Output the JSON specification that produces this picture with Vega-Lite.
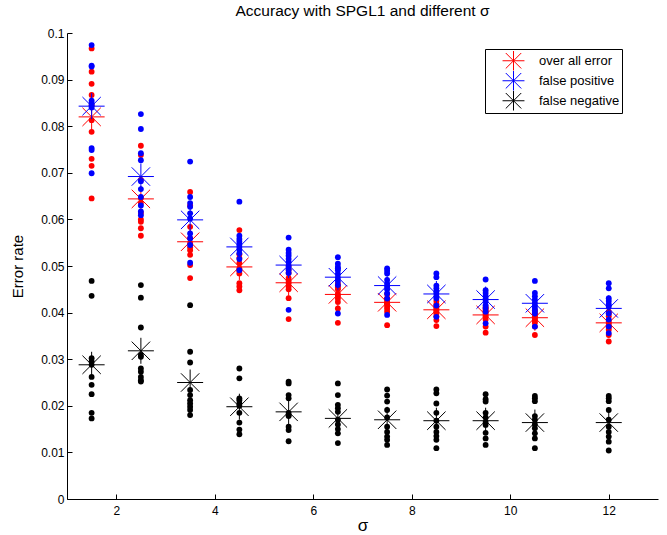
{
  "$schema": "https://vega.github.io/schema/vega-lite/v6.json",
  "width": 591,
  "height": 466,
  "autosize": {"type": "none"},
  "padding": {"left": 67, "top": 33, "right": 9, "bottom": 36},
  "background": "white",
  "title": {"text": "Accuracy with SPGL1 and different σ", "font": "Liberation Sans", "fontSize": 15.5, "fontWeight": "normal", "color": "black", "anchor": "middle", "offset": 8},
  "config": {
    "view": {"stroke": null},
    "axis": {"domainColor": "black", "tickColor": "black", "labelColor": "black", "labelFont": "Liberation Sans", "labelFontSize": 12, "titleFont": "Liberation Sans", "titleColor": "black", "titleFontWeight": "normal", "grid": false, "tickSize": -5, "domainWidth": 1, "tickWidth": 1}
  },
  "datasets": {
    "overall": [
      {"sigma":1.5,"rate":0.0967},{"sigma":1.5,"rate":0.0917},{"sigma":1.5,"rate":0.0891},{"sigma":1.5,"rate":0.0867},{"sigma":1.5,"rate":0.0845},{"sigma":1.5,"rate":0.0813},{"sigma":1.5,"rate":0.0788},{"sigma":1.5,"rate":0.0730},{"sigma":1.5,"rate":0.0715},{"sigma":1.5,"rate":0.0645},
      {"sigma":2.5,"rate":0.0758},{"sigma":2.5,"rate":0.0738},{"sigma":2.5,"rate":0.0685},{"sigma":2.5,"rate":0.0646},{"sigma":2.5,"rate":0.0635},{"sigma":2.5,"rate":0.0614},{"sigma":2.5,"rate":0.0600},{"sigma":2.5,"rate":0.0595},{"sigma":2.5,"rate":0.0581},{"sigma":2.5,"rate":0.0565},
      {"sigma":3.5,"rate":0.0659},{"sigma":3.5,"rate":0.0630},{"sigma":3.5,"rate":0.0584},{"sigma":3.5,"rate":0.0560},{"sigma":3.5,"rate":0.0549},{"sigma":3.5,"rate":0.0540},{"sigma":3.5,"rate":0.0534},{"sigma":3.5,"rate":0.0524},{"sigma":3.5,"rate":0.0502},{"sigma":3.5,"rate":0.0474},
      {"sigma":4.5,"rate":0.0577},{"sigma":4.5,"rate":0.0525},{"sigma":4.5,"rate":0.0517},{"sigma":4.5,"rate":0.0506},{"sigma":4.5,"rate":0.0495},{"sigma":4.5,"rate":0.0490},{"sigma":4.5,"rate":0.0484},{"sigma":4.5,"rate":0.0463},{"sigma":4.5,"rate":0.0456},{"sigma":4.5,"rate":0.0448},
      {"sigma":5.5,"rate":0.0500},{"sigma":5.5,"rate":0.0492},{"sigma":5.5,"rate":0.0485},{"sigma":5.5,"rate":0.0474},{"sigma":5.5,"rate":0.0468},{"sigma":5.5,"rate":0.0463},{"sigma":5.5,"rate":0.0456},{"sigma":5.5,"rate":0.0450},{"sigma":5.5,"rate":0.0431},{"sigma":5.5,"rate":0.0386},
      {"sigma":6.5,"rate":0.0462},{"sigma":6.5,"rate":0.0458},{"sigma":6.5,"rate":0.0454},{"sigma":6.5,"rate":0.0450},{"sigma":6.5,"rate":0.0440},{"sigma":6.5,"rate":0.0436},{"sigma":6.5,"rate":0.0430},{"sigma":6.5,"rate":0.0423},{"sigma":6.5,"rate":0.0409},{"sigma":6.5,"rate":0.0378},
      {"sigma":7.5,"rate":0.0440},{"sigma":7.5,"rate":0.0431},{"sigma":7.5,"rate":0.0428},{"sigma":7.5,"rate":0.0423},{"sigma":7.5,"rate":0.0420},{"sigma":7.5,"rate":0.0418},{"sigma":7.5,"rate":0.0413},{"sigma":7.5,"rate":0.0408},{"sigma":7.5,"rate":0.0402},{"sigma":7.5,"rate":0.0373},
      {"sigma":8.5,"rate":0.0425},{"sigma":8.5,"rate":0.0418},{"sigma":8.5,"rate":0.0413},{"sigma":8.5,"rate":0.0409},{"sigma":8.5,"rate":0.0405},{"sigma":8.5,"rate":0.0402},{"sigma":8.5,"rate":0.0398},{"sigma":8.5,"rate":0.0392},{"sigma":8.5,"rate":0.0384},{"sigma":8.5,"rate":0.0371},
      {"sigma":9.5,"rate":0.0412},{"sigma":9.5,"rate":0.0409},{"sigma":9.5,"rate":0.0405},{"sigma":9.5,"rate":0.0402},{"sigma":9.5,"rate":0.0398},{"sigma":9.5,"rate":0.0394},{"sigma":9.5,"rate":0.0391},{"sigma":9.5,"rate":0.0385},{"sigma":9.5,"rate":0.0370},{"sigma":9.5,"rate":0.0357},
      {"sigma":10.5,"rate":0.0405},{"sigma":10.5,"rate":0.0400},{"sigma":10.5,"rate":0.0396},{"sigma":10.5,"rate":0.0392},{"sigma":10.5,"rate":0.0389},{"sigma":10.5,"rate":0.0386},{"sigma":10.5,"rate":0.0382},{"sigma":10.5,"rate":0.0378},{"sigma":10.5,"rate":0.0370},{"sigma":10.5,"rate":0.0352},
      {"sigma":12,"rate":0.0402},{"sigma":12,"rate":0.0398},{"sigma":12,"rate":0.0392},{"sigma":12,"rate":0.0381},{"sigma":12,"rate":0.0377},{"sigma":12,"rate":0.0372},{"sigma":12,"rate":0.0368},{"sigma":12,"rate":0.0363},{"sigma":12,"rate":0.0352},{"sigma":12,"rate":0.0338}
    ],
    "fp": [
      {"sigma":1.5,"rate":0.0974},{"sigma":1.5,"rate":0.0930},{"sigma":1.5,"rate":0.0928},{"sigma":1.5,"rate":0.0855},{"sigma":1.5,"rate":0.0850},{"sigma":1.5,"rate":0.0845},{"sigma":1.5,"rate":0.0840},{"sigma":1.5,"rate":0.0753},{"sigma":1.5,"rate":0.0749},{"sigma":1.5,"rate":0.0699},
      {"sigma":2.5,"rate":0.0826},{"sigma":2.5,"rate":0.0794},{"sigma":2.5,"rate":0.0742},{"sigma":2.5,"rate":0.0727},{"sigma":2.5,"rate":0.0682},{"sigma":2.5,"rate":0.0665},{"sigma":2.5,"rate":0.0648},{"sigma":2.5,"rate":0.0630},{"sigma":2.5,"rate":0.0617},{"sigma":2.5,"rate":0.0609},
      {"sigma":3.5,"rate":0.0724},{"sigma":3.5,"rate":0.0648},{"sigma":3.5,"rate":0.0635},{"sigma":3.5,"rate":0.0627},{"sigma":3.5,"rate":0.0613},{"sigma":3.5,"rate":0.0602},{"sigma":3.5,"rate":0.0570},{"sigma":3.5,"rate":0.0559},{"sigma":3.5,"rate":0.0545},{"sigma":3.5,"rate":0.0507},
      {"sigma":4.5,"rate":0.0638},{"sigma":4.5,"rate":0.0565},{"sigma":4.5,"rate":0.0558},{"sigma":4.5,"rate":0.0552},{"sigma":4.5,"rate":0.0546},{"sigma":4.5,"rate":0.0541},{"sigma":4.5,"rate":0.0535},{"sigma":4.5,"rate":0.0527},{"sigma":4.5,"rate":0.0515},{"sigma":4.5,"rate":0.0491},
      {"sigma":5.5,"rate":0.0561},{"sigma":5.5,"rate":0.0535},{"sigma":5.5,"rate":0.0528},{"sigma":5.5,"rate":0.0522},{"sigma":5.5,"rate":0.0515},{"sigma":5.5,"rate":0.0508},{"sigma":5.5,"rate":0.0500},{"sigma":5.5,"rate":0.0492},{"sigma":5.5,"rate":0.0485},{"sigma":5.5,"rate":0.0406},
      {"sigma":6.5,"rate":0.0519},{"sigma":6.5,"rate":0.0505},{"sigma":6.5,"rate":0.0495},{"sigma":6.5,"rate":0.0498},{"sigma":6.5,"rate":0.0491},{"sigma":6.5,"rate":0.0483},{"sigma":6.5,"rate":0.0475},{"sigma":6.5,"rate":0.0468},{"sigma":6.5,"rate":0.0459},{"sigma":6.5,"rate":0.0398},
      {"sigma":7.5,"rate":0.0495},{"sigma":7.5,"rate":0.0490},{"sigma":7.5,"rate":0.0484},{"sigma":7.5,"rate":0.0470},{"sigma":7.5,"rate":0.0462},{"sigma":7.5,"rate":0.0456},{"sigma":7.5,"rate":0.0450},{"sigma":7.5,"rate":0.0441},{"sigma":7.5,"rate":0.0430},{"sigma":7.5,"rate":0.0395},
      {"sigma":8.5,"rate":0.0484},{"sigma":8.5,"rate":0.0476},{"sigma":8.5,"rate":0.0458},{"sigma":8.5,"rate":0.0452},{"sigma":8.5,"rate":0.0446},{"sigma":8.5,"rate":0.0441},{"sigma":8.5,"rate":0.0435},{"sigma":8.5,"rate":0.0431},{"sigma":8.5,"rate":0.0415},{"sigma":8.5,"rate":0.0391},
      {"sigma":9.5,"rate":0.0471},{"sigma":9.5,"rate":0.0448},{"sigma":9.5,"rate":0.0442},{"sigma":9.5,"rate":0.0436},{"sigma":9.5,"rate":0.0430},{"sigma":9.5,"rate":0.0425},{"sigma":9.5,"rate":0.0416},{"sigma":9.5,"rate":0.0410},{"sigma":9.5,"rate":0.0402},{"sigma":9.5,"rate":0.0377},
      {"sigma":10.5,"rate":0.0468},{"sigma":10.5,"rate":0.0442},{"sigma":10.5,"rate":0.0435},{"sigma":10.5,"rate":0.0428},{"sigma":10.5,"rate":0.0421},{"sigma":10.5,"rate":0.0415},{"sigma":10.5,"rate":0.0410},{"sigma":10.5,"rate":0.0404},{"sigma":10.5,"rate":0.0398},{"sigma":10.5,"rate":0.0370},
      {"sigma":12,"rate":0.0463},{"sigma":12,"rate":0.0452},{"sigma":12,"rate":0.0431},{"sigma":12,"rate":0.0425},{"sigma":12,"rate":0.0418},{"sigma":12,"rate":0.0413},{"sigma":12,"rate":0.0398},{"sigma":12,"rate":0.0385},{"sigma":12,"rate":0.0370},{"sigma":12,"rate":0.0356}
    ],
    "fn": [
      {"sigma":1.5,"rate":0.0468},{"sigma":1.5,"rate":0.0436},{"sigma":1.5,"rate":0.0302},{"sigma":1.5,"rate":0.0295},{"sigma":1.5,"rate":0.0288},{"sigma":1.5,"rate":0.0262},{"sigma":1.5,"rate":0.0245},{"sigma":1.5,"rate":0.0225},{"sigma":1.5,"rate":0.0185},{"sigma":1.5,"rate":0.0173},
      {"sigma":2.5,"rate":0.0459},{"sigma":2.5,"rate":0.0432},{"sigma":2.5,"rate":0.0368},{"sigma":2.5,"rate":0.0309},{"sigma":2.5,"rate":0.0305},{"sigma":2.5,"rate":0.0280},{"sigma":2.5,"rate":0.0273},{"sigma":2.5,"rate":0.0262},{"sigma":2.5,"rate":0.0255},{"sigma":2.5,"rate":0.0252},
      {"sigma":3.5,"rate":0.0416},{"sigma":3.5,"rate":0.0316},{"sigma":3.5,"rate":0.0293},{"sigma":3.5,"rate":0.0234},{"sigma":3.5,"rate":0.0223},{"sigma":3.5,"rate":0.0212},{"sigma":3.5,"rate":0.0205},{"sigma":3.5,"rate":0.0198},{"sigma":3.5,"rate":0.0191},{"sigma":3.5,"rate":0.0180},
      {"sigma":4.5,"rate":0.0280},{"sigma":4.5,"rate":0.0259},{"sigma":4.5,"rate":0.0216},{"sigma":4.5,"rate":0.0212},{"sigma":4.5,"rate":0.0205},{"sigma":4.5,"rate":0.0200},{"sigma":4.5,"rate":0.0185},{"sigma":4.5,"rate":0.0164},{"sigma":4.5,"rate":0.0149},{"sigma":4.5,"rate":0.0139},
      {"sigma":5.5,"rate":0.0252},{"sigma":5.5,"rate":0.0248},{"sigma":5.5,"rate":0.0223},{"sigma":5.5,"rate":0.0216},{"sigma":5.5,"rate":0.0185},{"sigma":5.5,"rate":0.0180},{"sigma":5.5,"rate":0.0178},{"sigma":5.5,"rate":0.0155},{"sigma":5.5,"rate":0.0148},{"sigma":5.5,"rate":0.0124},
      {"sigma":6.5,"rate":0.0248},{"sigma":6.5,"rate":0.0223},{"sigma":6.5,"rate":0.0202},{"sigma":6.5,"rate":0.0195},{"sigma":6.5,"rate":0.0187},{"sigma":6.5,"rate":0.0170},{"sigma":6.5,"rate":0.0160},{"sigma":6.5,"rate":0.0150},{"sigma":6.5,"rate":0.0141},{"sigma":6.5,"rate":0.0120},
      {"sigma":7.5,"rate":0.0235},{"sigma":7.5,"rate":0.0222},{"sigma":7.5,"rate":0.0209},{"sigma":7.5,"rate":0.0191},{"sigma":7.5,"rate":0.0175},{"sigma":7.5,"rate":0.0155},{"sigma":7.5,"rate":0.0144},{"sigma":7.5,"rate":0.0134},{"sigma":7.5,"rate":0.0127},{"sigma":7.5,"rate":0.0116},
      {"sigma":8.5,"rate":0.0235},{"sigma":8.5,"rate":0.0227},{"sigma":8.5,"rate":0.0205},{"sigma":8.5,"rate":0.0185},{"sigma":8.5,"rate":0.0168},{"sigma":8.5,"rate":0.0155},{"sigma":8.5,"rate":0.0144},{"sigma":8.5,"rate":0.0135},{"sigma":8.5,"rate":0.0127},{"sigma":8.5,"rate":0.0109},
      {"sigma":9.5,"rate":0.0225},{"sigma":9.5,"rate":0.0214},{"sigma":9.5,"rate":0.0209},{"sigma":9.5,"rate":0.0185},{"sigma":9.5,"rate":0.0175},{"sigma":9.5,"rate":0.0165},{"sigma":9.5,"rate":0.0159},{"sigma":9.5,"rate":0.0142},{"sigma":9.5,"rate":0.0130},{"sigma":9.5,"rate":0.0116},
      {"sigma":10.5,"rate":0.0221},{"sigma":10.5,"rate":0.0216},{"sigma":10.5,"rate":0.0210},{"sigma":10.5,"rate":0.0178},{"sigma":10.5,"rate":0.0170},{"sigma":10.5,"rate":0.0160},{"sigma":10.5,"rate":0.0152},{"sigma":10.5,"rate":0.0141},{"sigma":10.5,"rate":0.0130},{"sigma":10.5,"rate":0.0109},
      {"sigma":12,"rate":0.0221},{"sigma":12,"rate":0.0216},{"sigma":12,"rate":0.0210},{"sigma":12,"rate":0.0191},{"sigma":12,"rate":0.0170},{"sigma":12,"rate":0.0155},{"sigma":12,"rate":0.0144},{"sigma":12,"rate":0.0134},{"sigma":12,"rate":0.0123},{"sigma":12,"rate":0.0104}
    ],
    "means": [
      {"sigma":1.5,"series":"over all error","rate":0.0820},{"sigma":2.5,"series":"over all error","rate":0.0644},{"sigma":3.5,"series":"over all error","rate":0.0552},{"sigma":4.5,"series":"over all error","rate":0.0498},{"sigma":5.5,"series":"over all error","rate":0.0464},{"sigma":6.5,"series":"over all error","rate":0.0439},{"sigma":7.5,"series":"over all error","rate":0.0422},{"sigma":8.5,"series":"over all error","rate":0.0406},{"sigma":9.5,"series":"over all error","rate":0.0395},{"sigma":10.5,"series":"over all error","rate":0.0389},{"sigma":12,"series":"over all error","rate":0.0378},
      {"sigma":1.5,"series":"false positive","rate":0.0843},{"sigma":2.5,"series":"false positive","rate":0.0692},{"sigma":3.5,"series":"false positive","rate":0.0599},{"sigma":4.5,"series":"false positive","rate":0.0541},{"sigma":5.5,"series":"false positive","rate":0.0502},{"sigma":6.5,"series":"false positive","rate":0.0476},{"sigma":7.5,"series":"false positive","rate":0.0458},{"sigma":8.5,"series":"false positive","rate":0.0440},{"sigma":9.5,"series":"false positive","rate":0.0428},{"sigma":10.5,"series":"false positive","rate":0.0420},{"sigma":12,"series":"false positive","rate":0.0409},
      {"sigma":1.5,"series":"false negative","rate":0.0288},{"sigma":2.5,"series":"false negative","rate":0.0318},{"sigma":3.5,"series":"false negative","rate":0.0250},{"sigma":4.5,"series":"false negative","rate":0.0198},{"sigma":5.5,"series":"false negative","rate":0.0187},{"sigma":6.5,"series":"false negative","rate":0.0173},{"sigma":7.5,"series":"false negative","rate":0.0170},{"sigma":8.5,"series":"false negative","rate":0.0168},{"sigma":9.5,"series":"false negative","rate":0.0168},{"sigma":10.5,"series":"false negative","rate":0.0164},{"sigma":12,"series":"false negative","rate":0.0164}
    ]
  },
  "encoding": {
    "x": {"field": "sigma", "type": "quantitative", "scale": {"domain": [1, 13], "nice": false, "zero": false},
          "axis": {"values": [2, 4, 6, 8, 10, 12], "title": "σ", "titleFontSize": 17, "titlePadding": 1, "labelFontSize": 12, "labelPadding": 11}},
    "y": {"field": "rate", "type": "quantitative", "scale": {"domain": [0, 0.1], "nice": false},
          "axis": {"values": [0, 0.01, 0.02, 0.03, 0.04, 0.05, 0.06, 0.07, 0.08, 0.09, 0.1], "format": "~g", "title": "Error rate", "titleFontSize": 15, "titleX": -50, "titleY": 233, "titleAngle": -90, "titleAlign": "center", "titleBaseline": "middle", "labelFontSize": 12, "labelPadding": 8}}
  },
  "layer": [
    {"data": {"name": "overall"}, "mark": {"type": "point", "shape": "circle", "filled": true, "size": 34, "color": "#ff0000", "opacity": 1}},
    {"data": {"name": "means"}, "transform": [{"filter": "datum.series === 'over all error'"}],
     "mark": {"type": "point", "shape": "M-1,0L1,0M0,-1L0,1M-0.7071,-0.7071L0.7071,0.7071M-0.7071,0.7071L0.7071,-0.7071", "filled": false, "size": 676, "strokeWidth": 1, "opacity": 1},
     "encoding": {"color": {"field": "series", "type": "nominal", "scale": {"domain": ["over all error", "false positive", "false negative"], "range": ["#ff0000", "#0000ff", "#000000"]},
       "legend": {"title": null, "orient": "none", "legendX": 418, "legendY": 16, "direction": "vertical", "symbolType": "M-1,0L1,0M0,-1L0,1M-0.7071,-0.7071L0.7071,0.7071M-0.7071,0.7071L0.7071,-0.7071", "symbolSize": 480, "symbolStrokeWidth": 1, "symbolOffset": 15, "rowPadding": 0, "clipHeight": 19.5, "padding": 2, "labelOffset": 14, "labelFont": "Liberation Sans", "labelFontSize": 13, "labelColor": "black", "strokeColor": "black", "fillColor": "white"}}}},
    {"data": {"name": "fp"}, "mark": {"type": "point", "shape": "circle", "filled": true, "size": 34, "color": "#0000ff", "opacity": 1}},
    {"data": {"name": "means"}, "transform": [{"filter": "datum.series === 'false positive'"}],
     "mark": {"type": "point", "shape": "M-1,0L1,0M0,-1L0,1M-0.7071,-0.7071L0.7071,0.7071M-0.7071,0.7071L0.7071,-0.7071", "filled": false, "size": 676, "strokeWidth": 1, "opacity": 1},
     "encoding": {"color": {"field": "series", "type": "nominal"}}},
    {"data": {"name": "fn"}, "mark": {"type": "point", "shape": "circle", "filled": true, "size": 34, "color": "#000000", "opacity": 1}},
    {"data": {"name": "means"}, "transform": [{"filter": "datum.series === 'false negative'"}],
     "mark": {"type": "point", "shape": "M-1,0L1,0M0,-1L0,1M-0.7071,-0.7071L0.7071,0.7071M-0.7071,0.7071L0.7071,-0.7071", "filled": false, "size": 676, "strokeWidth": 1, "opacity": 1},
     "encoding": {"color": {"field": "series", "type": "nominal"}}}
  ]
}
